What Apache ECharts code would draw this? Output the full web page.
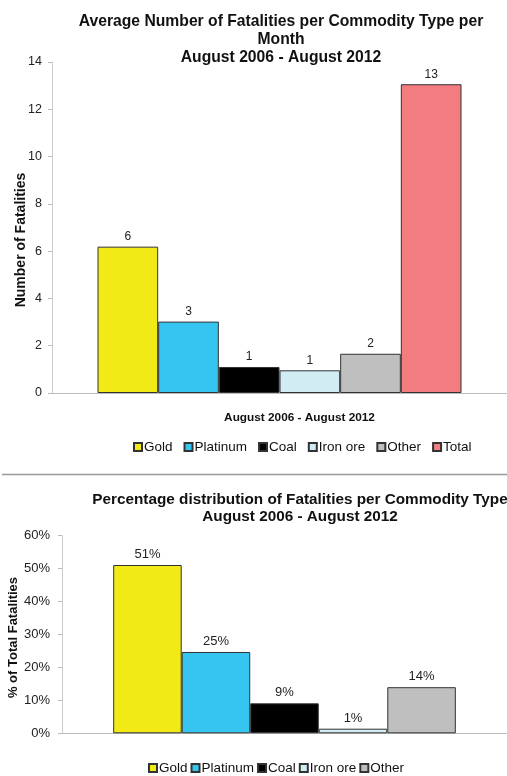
<!DOCTYPE html>
<html>
<head>
<meta charset="utf-8">
<script src="https://cdn.jsdelivr.net/npm/echarts@6/dist/echarts.min.js"></script>
<style>
html,body{margin:0;padding:0;background:#fff;}
#c{width:507px;height:776px;}
</style>
</head>
<body>
<div id="c"></div>
<script>
const commodities = ['Gold', 'Platinum', 'Coal', 'Iron ore', 'Other', 'Total'];
const avgFatalities = [6.19, 3.02, 1.1, 0.96, 1.66, 13.06];
const pctCommodities = ['Gold', 'Platinum', 'Coal', 'Iron ore', 'Other'];
const pctFatalities = [51.1, 24.7, 9.1, 1.4, 14.0];
const periodLabel = 'August 2006 - August 2012';
const colors = ['#F2EA17', '#36C5F0', '#000000', '#D2ECF3', '#BFBFBF', '#F27C80'];

const FONT = 'Liberation Sans, Arial, sans-serif';
const chart = echarts.init(document.getElementById('c'), null, {renderer: 'canvas'});

const series = [];
commodities.forEach((name, i) => {
  series.push({
    type: 'bar', name: name, xAxisIndex: 0, yAxisIndex: 0,
    data: [avgFatalities[i]],
    barGap: '0%', barCategoryGap: '20%',
    itemStyle: {color: colors[i], borderColor: '#333', borderWidth: 1},
    label: {show: true, position: 'top', distance: 4, color: '#222', fontSize: 12, fontFamily: FONT,
      formatter: p => Math.round(p.value).toString()},
    emphasis: {disabled: true}
  });
});
pctCommodities.forEach((name, i) => {
  series.push({
    type: 'bar', name: name, xAxisIndex: 1, yAxisIndex: 1,
    data: [pctFatalities[i]],
    barGap: '0%', barCategoryGap: '23%',
    itemStyle: {color: colors[i], borderColor: '#333', borderWidth: 1},
    label: {show: true, position: 'top', distance: 4, color: '#222', fontSize: 13, fontFamily: FONT,
      formatter: p => Math.round(p.value) + '%'},
    emphasis: {disabled: true}
  });
});

const legendCommon = {
  icon: 'rect', itemWidth: 8, itemHeight: 8, padding: 0,
  textStyle: {fontSize: 13.5, color: '#111', fontFamily: FONT, padding: [0, 0, 0, -3]},
  selectedMode: false
};

chart.setOption({
  animation: false,
  textStyle: {fontFamily: FONT},
  title: [
    {text: 'Average Number of Fatalities per Commodity Type per\nMonth\n' + periodLabel,
     left: 276, textAlign: 'center', top: 8,
     textStyle: {fontSize: 15.7, fontWeight: 'bold', color: '#111', lineHeight: 18, fontFamily: FONT}},
    {text: 'Percentage distribution of Fatalities per Commodity Type\n' + periodLabel,
     left: 295, textAlign: 'center', top: 486,
     textStyle: {fontSize: 15.3, fontWeight: 'bold', color: '#111', lineHeight: 17, fontFamily: FONT}}
  ],
  legend: [
    Object.assign({data: commodities, top: 440, left: 133, itemGap: 11}, legendCommon),
    Object.assign({data: pctCommodities, top: 761, left: 148, itemGap: 3}, legendCommon)
  ],
  grid: [
    {left: 52, right: 0, top: 62, height: 331, outerBoundsMode: 'none', containLabel: false},
    {left: 62, right: 0, top: 535.7, height: 197.6, outerBoundsMode: 'none', containLabel: false}
  ],
  xAxis: [
    {type: 'category', gridIndex: 0, data: [''],
     axisLine: {lineStyle: {color: '#bbb'}}, axisTick: {show: false}, axisLabel: {show: false},
     name: periodLabel, nameLocation: 'middle', nameGap: 19, nameMoveOverlap: false,
     nameTextStyle: {fontSize: 11.8, fontWeight: 'bold', color: '#111', fontFamily: FONT, padding: [0, 0, 0, 40]}},
    {type: 'category', gridIndex: 1, data: [''],
     axisLine: {lineStyle: {color: '#bbb'}}, axisTick: {show: false}, axisLabel: {show: false}}
  ],
  yAxis: [
    {type: 'value', gridIndex: 0, min: 0, max: 14, interval: 2,
     axisLine: {show: true, lineStyle: {color: '#ccc'}},
     axisTick: {show: true, length: 4, lineStyle: {color: '#bbb'}},
     splitLine: {show: false},
     axisLabel: {fontSize: 12.5, color: '#222', margin: 10, fontFamily: FONT},
     name: 'Number of Fatalities', nameLocation: 'middle', nameGap: 24, nameMoveOverlap: false,
     nameTextStyle: {fontSize: 14, fontWeight: 'bold', color: '#111', fontFamily: FONT, padding: [0, 25, 0, 0]}},
    {type: 'value', gridIndex: 1, min: 0, max: 60, interval: 10,
     axisLine: {show: true, lineStyle: {color: '#ccc'}},
     axisTick: {show: true, length: 4, lineStyle: {color: '#bbb'}},
     splitLine: {show: false},
     axisLabel: {fontSize: 13, color: '#222', margin: 12, fontFamily: FONT, formatter: '{value}%'},
     name: '% of Total Fatalities', nameLocation: 'middle', nameGap: 42, nameMoveOverlap: false,
     nameTextStyle: {fontSize: 13, fontWeight: 'bold', color: '#111', fontFamily: FONT, padding: [0, 6, 0, 0]}}
  ],
  graphic: [
    {type: 'line', shape: {x1: 2, y1: 474.5, x2: 507, y2: 474.5},
     style: {stroke: '#999', lineWidth: 1.5}}
  ],
  series: series
});
</script>
</body>
</html>
